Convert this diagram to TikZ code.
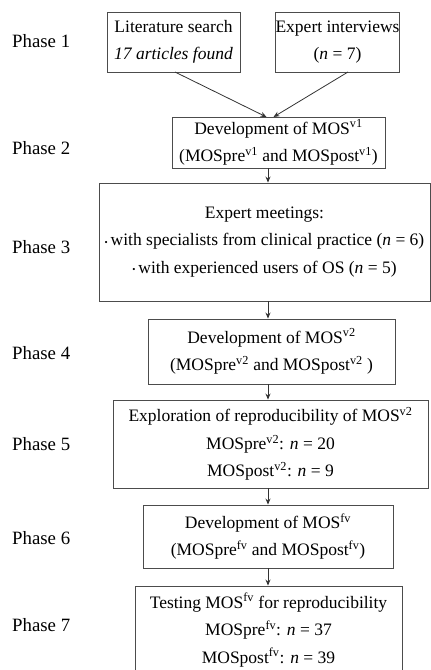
\documentclass[tikz,border=0pt]{standalone}
\usepackage{fontspec}
\setmainfont{Liberation Serif}
\usetikzlibrary{arrows.meta}
\newcommand\vsup[1]{\textsuperscript{#1}}
\newcommand\smallbullet{\raisebox{0.1ex}{\fontsize{9}{9}\selectfont\textbullet}\,}
\begin{document}
\begin{tikzpicture}[x=1pt,y=-1pt,
  stage/.style={draw=black!70, line width=0.9pt, align=center, inner sep=0pt,
    font=\fontsize{17.5}{27.5}\selectfont},
  phase/.style={anchor=base west, inner sep=0pt, font=\fontsize{18.8}{22}\selectfont},
  flow/.style={draw=black!80, line width=0.8pt, -{Stealth[length=6pt,width=5pt]}}]
\useasboundingbox (0,0) rectangle (431,670);
\clip (0,0) rectangle (431,670);

% phase labels
\node[phase] (p1) at (12,47)  {Phase 1};
\node[phase] (p2) at (12,154) {Phase 2};
\node[phase] (p3) at (12,253) {Phase 3};
\node[phase] (p4) at (12,359) {Phase 4};
\node[phase] (p5) at (12,450) {Phase 5};
\node[phase] (p6) at (12,544) {Phase 6};
\node[phase] (p7) at (12,631) {Phase 7};

% stage boxes
\node[stage, minimum width=133, minimum height=60] (lit) at (173.5,42)
  {Literature search\\ \textit{17 articles found}};
\node[stage, minimum width=111, minimum height=60] (int) at (337.5,42)
  {Expert interviews\\ (\textit{n} = 7)};
\node[stage, minimum width=213, minimum height=51] (dv1) at (278.5,142.5)
  {Development of MOS\vsup{v1}\\ (MOSpre\vsup{v1} and MOSpost\vsup{v1})};
\node[stage, minimum width=331, minimum height=118] (meet) at (264.5,242)
  {Expert meetings:\\ \smallbullet with specialists from clinical practice (\textit{n} = 6)\\
   \smallbullet with experienced users of OS (\textit{n} = 5)};
\node[stage, minimum width=247, minimum height=65] (dv2) at (271.5,351.5)
  {Development of MOS\vsup{v2}\\ (MOSpre\vsup{v2} and MOSpost\vsup{v2} )};
\node[stage, minimum width=315, minimum height=88] (rep) at (270.5,444)
  {Exploration of reproducibility of MOS\vsup{v2}\\ MOSpre\vsup{v2}: \textit{n} = 20\\
   MOSpost\vsup{v2}: \textit{n} = 9};
\node[stage, minimum width=250, minimum height=63] (dfv) at (268,536.5)
  {Development of MOS\vsup{fv}\\ (MOSpre\vsup{fv} and MOSpost\vsup{fv})};
\node[stage, minimum width=267, minimum height=88] (test) at (268.5,630)
  {Testing MOS\vsup{fv} for reproducibility\\ MOSpre\vsup{fv}: \textit{n} = 37\\
   MOSpost\vsup{fv}: \textit{n} = 39};

% connectors
\coordinate (axis) at (268,0);
\coordinate (litout) at (175,72);
\coordinate (intout) at (348,72);
\coordinate (inL) at (266.5,117);
\coordinate (inR) at (273.5,117);
\draw[flow] (litout) -- (inL);
\draw[flow] (intout) -- (inR);
\draw[flow] (dv1.south -| axis) -- (meet.north -| axis);
\draw[flow] (meet.south -| axis) -- (dv2.north -| axis);
\draw[flow] (dv2.south -| axis) -- (rep.north -| axis);
\draw[flow] (rep.south -| axis) -- (dfv.north -| axis);
\draw[flow] (dfv.south -| axis) -- (test.north -| axis);
\end{tikzpicture}
\end{document}
